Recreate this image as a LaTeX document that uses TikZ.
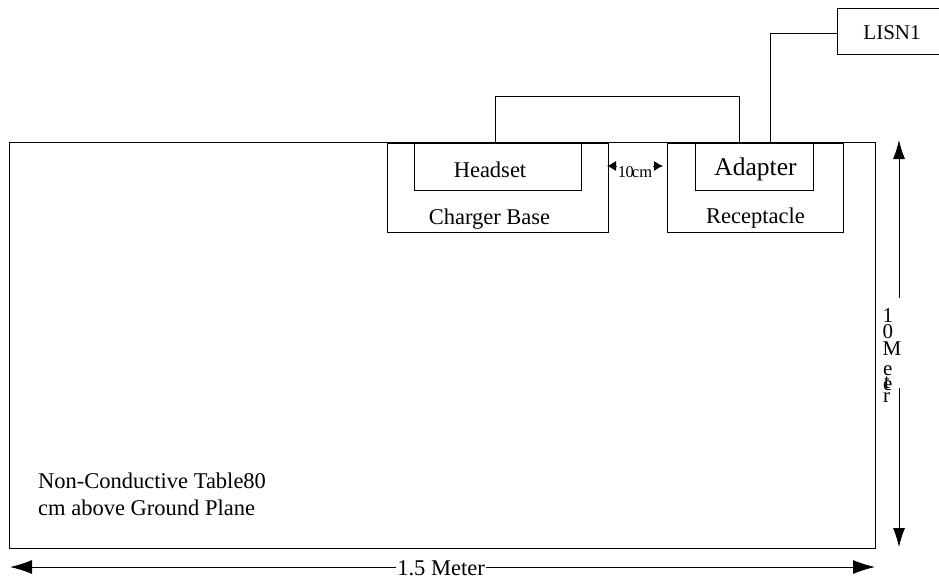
\documentclass[tikz,border=0pt]{standalone}
\usepackage{fontspec}
\setmainfont{Liberation Serif}
\usetikzlibrary{arrows.meta}
\tikzset{
  box/.style={draw=black, line width=0.9pt, anchor=north west, inner sep=0pt},
  lbl/.style={anchor=base, inner sep=0pt, font=\fontsize{22.5}{27}\selectfont},
  wire/.style={draw=black, line width=0.9pt},
  dimline/.style={draw=black, line width=0.9pt},
  vchar/.style={anchor=base west, inner sep=0pt, font=\fontsize{21}{21}\selectfont},
}
\begin{document}
\begin{tikzpicture}[x=1pt,y=-1pt]
\useasboundingbox (0,0) rectangle (939,583);
% table
\node[box, minimum width=866pt, minimum height=406pt] (table) at (9,142) {};
\node[anchor=base west, inner sep=0pt, align=left, font=\fontsize{22.5}{27}\selectfont] (tabletxt) at (38,515) {Non-Conductive Table80\\cm above Ground Plane};
% charger base
\node[box, minimum width=221pt, minimum height=89pt] (charger) at (387,143) {};
\node[box, minimum width=167pt, minimum height=47pt] (headset) at (414,143) {};
\node[lbl] (headsettxt) at (490,177) {Headset};
\node[lbl] (chargertxt) at (489.5,224) {Charger Base};
% receptacle
\node[box, minimum width=176pt, minimum height=89pt] (recept) at (667,143) {};
\node[box, minimum width=118pt, minimum height=47pt] (adapter) at (695,143) {};
\node[lbl, font=\fontsize{25.5}{30}\selectfont] (adaptertxt) at (755.5,175) {Adapter};
\node[lbl] (recepttxt) at (755.5,223) {Receptacle};
% LISN
\node[box, minimum width=110pt, minimum height=46pt] (lisn) at (837,8) {};
\node[lbl, font=\fontsize{21}{25}\selectfont] (lisntxt) at (892,40) {LISN1};
% wires
\coordinate (h1) at (495,143);
\coordinate (a1) at (739,143);
\draw[wire] (h1) -- (495,96) -- (739,96) -- (a1);
\coordinate (a2) at (770,143);
\coordinate (l1) at (837,33);
\draw[wire] (a2) |- (l1);
% 10 cm dimension
\coordinate (d1) at (607,166);
\coordinate (d2) at (663,166);
\draw[dimline, {Latex[length=9pt,width=10pt]}-{Latex[length=9pt,width=10pt]}] (d1) -- (d2);
\node[anchor=base, inner sep=0.5pt, fill=white, font=\fontsize{16.5}{18}\selectfont] (dtxt) at (635,177) {1\kern-0.5pt0\kern-2ptcm};
% 1.5 meter
\coordinate (m1) at (10,567);
\coordinate (m2) at (875,567);
\draw[dimline, {Latex[length=22pt,width=14pt]}-{Latex[length=22pt,width=14pt]}] (m1) -- (m2);
\node[anchor=base, inner sep=1pt, fill=white, font=\fontsize{22.5}{27}\selectfont] (mtxt) at (441,575) {1.5 Meter};
% 1.0 meter vertical
\coordinate (v1) at (899,140);
\coordinate (v2) at (899,298);
\coordinate (v3) at (899,388);
\coordinate (v4) at (899,547);
\draw[dimline, -{Latex[length=19pt,width=12pt]}] (v2) -- (v1);
\draw[dimline, -{Latex[length=19pt,width=12pt]}] (v3) -- (v4);
\node[vchar] (c1) at (882.5,322) {1};
\node[vchar] (c2) at (882.5,338) {0};
\node[vchar] (c3) at (882.5,355) {M};
\node[vchar] (c4) at (883,375) {e};
\node[vchar] (c5) at (884,388) {t};
\node[vchar] (c6) at (883,390) {e};
\node[vchar] (c7) at (883,402) {r};
\end{tikzpicture}
\end{document}
